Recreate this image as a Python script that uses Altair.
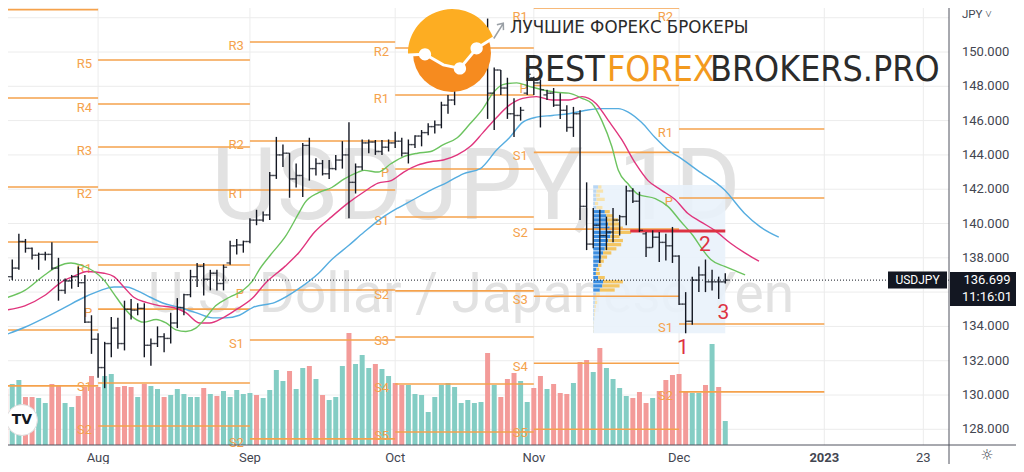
import altair as alt
import pandas as pd

# ------------------------------------------------------------------ data
# trading-day index (weekends skipped as on the chart): 0 = Mon 1 Aug 2022
bar_index = list(range(-14, 96))

opens = [137.40,136.90,137.40,138.95,138.55,138.15,138.20,138.20,137.40,136.10,
         136.65,136.90,136.55,134.25,133.25,131.60,133.00,133.90,133.00,135.00,
         134.95,135.05,132.90,133.00,133.40,133.30,134.20,135.10,135.85,136.90,
         137.50,136.75,137.10,136.50,137.70,138.70,138.75,138.95,140.20,140.20,
         140.50,142.80,144.00,144.10,142.60,142.80,144.55,143.20,143.50,142.90,
         143.20,143.70,144.00,142.40,143.30,144.70,144.75,144.20,144.45,144.70,
         144.80,144.10,144.60,145.10,145.30,145.65,145.75,146.90,147.20,148.70,
         149.00,149.20,149.85,150.15,147.60,148.95,147.90,146.40,146.30,147.60,
         148.50,148.20,147.50,147.60,146.90,146.60,145.60,146.40,141.00,138.80,
         139.90,139.30,139.50,140.20,140.40,141.90,141.30,139.40,138.60,139.20,
         138.90,138.70,138.10,135.30,134.30,136.70,137.00,136.60,136.60,136.60]
highs = [137.60,137.90,139.40,139.10,138.60,138.30,138.35,138.90,138.00,136.80,
         137.00,137.50,137.00,134.65,133.60,133.10,134.55,134.50,135.50,135.60,
         135.35,135.35,133.30,134.00,133.60,134.80,135.65,135.90,137.30,137.70,
         137.70,137.30,137.30,137.60,139.00,139.10,139.00,140.30,140.80,140.70,
         143.00,145.05,144.60,144.10,143.50,144.70,145.00,143.80,143.70,143.70,
         144.00,144.80,145.90,143.50,144.90,144.90,144.87,144.87,144.90,145.35,
         145.00,144.90,145.15,145.45,145.85,146.00,147.10,147.50,148.86,149.10,
         149.30,149.90,150.30,151.95,149.10,148.95,148.50,147.30,146.80,149.10,
         148.55,148.40,147.80,147.90,147.60,146.90,146.80,146.60,142.40,140.90,
         140.80,140.40,140.90,140.50,142.20,142.05,141.85,139.50,139.60,139.50,
         139.40,139.80,138.15,136.00,136.90,137.50,137.90,137.30,136.90,137.10]
lows = [136.40,136.70,137.30,138.30,137.90,137.30,137.85,137.30,135.50,135.90,
        136.20,136.30,134.20,132.40,131.00,130.40,132.20,132.70,132.60,134.40,
        134.65,132.20,131.70,132.80,132.50,133.00,133.90,134.65,135.70,136.30,
        135.80,136.10,136.10,136.10,137.60,138.20,138.30,138.85,139.90,140.10,
        140.20,142.60,143.30,141.50,142.10,141.55,142.50,142.80,142.80,142.60,
        143.10,143.20,140.30,141.75,143.10,144.10,144.00,144.00,144.20,144.40,
        143.90,143.50,144.40,144.50,145.15,145.25,145.55,146.40,146.90,148.40,
        148.70,149.10,149.70,146.10,145.45,147.50,146.10,145.05,146.00,147.50,
        147.50,145.60,147.20,146.80,146.10,145.35,145.05,140.20,138.45,138.55,
        137.70,138.45,138.90,139.30,139.90,141.20,139.50,138.05,138.60,137.75,
        137.85,137.70,135.25,133.60,134.10,136.00,136.00,136.10,135.60,136.50]
closes = [136.90,137.40,138.95,138.55,138.15,138.20,138.20,137.40,136.10,136.65,
          136.90,136.55,134.25,133.25,131.60,133.00,133.90,133.00,135.00,134.95,
          135.05,132.90,133.00,133.40,133.30,134.20,135.10,135.85,136.90,137.50,
          136.75,137.10,136.50,137.45,138.70,138.75,138.95,140.20,140.20,140.50,
          142.80,144.00,144.10,142.60,142.80,144.55,143.20,143.50,142.90,143.20,
          143.70,144.00,142.40,143.30,144.70,144.75,144.20,144.45,144.70,144.80,
          144.10,144.60,145.10,145.30,145.65,145.75,146.90,147.20,148.70,149.00,
          149.20,149.85,150.15,147.60,148.95,147.90,146.40,146.30,146.60,148.70,
          148.20,147.80,147.60,146.90,146.60,145.60,146.40,141.00,138.80,139.90,
          139.30,139.50,140.20,140.40,141.90,141.30,139.60,138.60,139.20,138.90,
          138.70,138.10,135.30,134.30,136.70,137.00,136.60,136.60,136.60,136.70]

volume = [56,61,65,48,48,47,42,61,59,42,
          38,49,58,69,58,69,71,58,59,58,
          48,61,59,56,48,50,56,51,48,48,
          57,51,49,54,48,55,51,52,50,47,
          55,75,64,74,56,77,79,66,50,45,
          48,79,112,81,90,77,81,76,69,62,
          60,60,51,50,33,48,60,62,58,42,
          45,42,43,92,60,48,66,72,64,43,
          57,69,56,61,52,51,62,83,85,73,
          97,77,66,57,49,47,53,42,47,54,
          65,70,71,53,52,52,60,101,58,24]
volume_side = ("d u u d d u u d d u "
               "u d d d d u u d d d "
               "u d u u d u u u u u "
               "d u d u u u u u d u "
               "u u u d u u d u d u "
               "u u d u u u d u u d "
               "d u u u u u u u u u "
               "u u u d u d d d u u "
               "d d u d d d u d d u "
               "d u u u u d d d u d "
               "d d d d u u d u d u").split()

# Alligator lines (jaw / teeth / lips)
lips_at = [-14.1,-11.1,-8.1,-6.1,-4.1,-2.6,-0.6,0.9,2.4,3.9,5.4,6.9,8.8,10.3,11.8,13.3,14.8,
           16.3,17.8,19.9,21.9,23.4,24.4,26.4,28.3,30.4,31.3,33.4,35.4,37.3,39.4,40.3,42.4,
           44.4,46.3,48.4,50.4,52.3,54.4,56.3,58.3,59.8,61.3,63.4,65.3,67.3,69.4,71.3,73.3,
           74.8,76.3,77.8,78.8,80.3,81.8,84.4,86.3,88.3,90.1,91.6,92.8,94.9,96.8,98.0]
lips = [135.65,136.1,137.0,137.5,137.7,137.57,137.2,136.7,135.9,135.1,134.5,134.25,134.4,
        134.2,133.8,133.7,133.9,134.5,135.2,135.7,136.1,136.65,137.3,138.3,139.2,140.6,141.2,
        141.8,142.1,142.6,143.0,143.1,143.0,143.5,143.9,144.1,144.2,144.6,145.0,145.8,146.7,
        147.6,148.1,148.2,148.0,147.8,147.65,147.6,147.3,147.0,146.0,144.5,143.1,142.3,141.7,
        141.45,141.0,140.1,139.3,138.45,137.9,137.5,137.2,137.0]
teeth_at = [-14.1,-11.1,-8.1,-5.5,-3.2,-1.7,0.9,2.4,3.9,5.4,7.3,9.4,11.4,13.3,15.4,16.9,18.9,
            20.8,23.4,25.3,28.3,30.4,32.8,35.4,37.9,40.3,42.4,44.4,46.3,48.4,50.4,52.3,54.4,
            56.4,58.3,60.4,62.3,64.3,66.4,68.8,71.3,73.3,75.4,77.3,79.3,81.4,83.3,85.3,87.4,
            89.3,91.3,93.4,95.8,97.9,100.1]
teeth = [134.95,135.2,135.8,136.6,137.0,137.2,137.1,136.9,136.3,135.7,135.4,135.2,135.1,
         134.8,134.2,134.2,134.5,134.95,135.65,136.5,137.5,138.3,139.5,140.4,141.2,141.85,
         142.35,142.5,143.0,143.4,143.6,143.7,144.0,144.5,145.3,146.2,146.9,147.3,147.4,147.2,
         147.2,147.4,147.0,146.0,144.9,143.5,142.5,141.95,141.4,140.6,140.1,139.6,138.85,138.3,
         137.8]
jaw_at = [-14.1,-11.1,-8.1,-5.1,-2.1,0.4,2.4,4.3,5.8,7.9,9.9,12.4,14.8,17.4,19.3,21.4,23.4,
          26.8,30.4,33.4,35.4,37.9,40.3,42.9,45.4,47.8,50.4,52.9,55.3,57.9,60.4,62.3,64.3,
          66.4,68.8,71.3,73.9,76.3,78.8,80.3,82.3,84.4,86.3,88.3,90.8,94.9,97.9,100.3,103.1]
jaw = [133.5,133.95,134.5,135.1,135.7,136.1,136.3,136.3,136.1,135.7,135.35,135.1,134.8,134.5,
       134.5,134.65,135.1,135.4,136.2,137.1,137.9,138.7,139.5,140.3,140.9,141.4,141.95,142.4,
       142.9,143.2,144.3,145.0,145.9,146.2,146.3,146.4,146.6,146.7,146.7,146.5,145.9,145.0,
       144.3,143.8,143.1,141.95,140.6,139.8,139.2]

# monthly pivot points: one segment per month
pivot_months = ["Jul", "Aug", "Sep", "Oct", "Nov", "Dec"]
pivot_from = [-20, 0, 23, 45, 66, 88]
pivot_to = [0, 23, 45, 66, 88, 110]
piv_jul_names = ["R4", "R3", "R2", "R1", "P", "S1"]
piv_jul = [152.47, 147.32, 142.13, 138.92, 133.79, 130.53]
piv_aug_names = ["R5", "R4", "R3", "R2", "R1", "P", "S1", "S2"]
piv_aug = [149.53, 146.97, 144.46, 141.95, 137.58, 135.01, 130.70, 128.19]
piv_sep_names = ["R3", "R2", "R1", "P", "S1", "S2"]
piv_sep = [150.58, 144.81, 141.95, 136.12, 133.21, 127.44]
piv_oct_names = ["R2", "R1", "P", "S1", "S2", "S3", "S4", "S5"]
piv_oct = [150.23, 147.49, 143.18, 140.38, 136.07, 133.38, 130.64, 127.84]
piv_nov_names = ["R1", "P", "S1", "S2", "S3", "S4", "S5"]
piv_nov = [152.57, 148.05, 144.15, 139.67, 135.76, 131.85, 128.00]
piv_dec_names = ["R2", "R1", "P", "S1", "S2"]
piv_dec = [152.77, 145.51, 141.49, 134.14, 130.18]

# fixed range volume profile (rows from top to bottom)
vp_from, vp_to = 75, 95
vp_high, vp_low = 142.25, 133.60
vp_up = [5.0,3.3,2.7,3.3,1.7,3.3,11.7,13.3,14.0,15.0,16.7,18.3,17.3,15.0,13.3,11.7,10.0,8.3,
         6.0,5.0,3.3,2.7,5.0,10.0,9.3,6.7,2.7,1.7,1.7,1.3,1.0,0.7,0.7,0.3,0.3,0.3]
vp_down = [3.3,6.7,4.0,8.3,3.3,6.0,5.0,6.7,11.0,11.7,13.3,20.0,9.3,15.0,15.0,11.7,8.3,5.7,
           4.7,3.3,2.7,4.0,6.7,20.0,17.3,15.0,4.0,1.7,2.3,1.3,1.0,0.7,0.3,0.3,0.3,0.3]
vp_value_area = [0]*6 + [1]*20 + [0]*10

# axis ticks
month_ticks = [0, 23, 45, 66, 88, 110, 125]
month_labels = ["Aug", "Sep", "Oct", "Nov", "Dec", "2023", "23"]
month_bold = [0, 0, 0, 0, 0, 1, 0]
price_grid = list(range(128, 153, 2))
price_labels = list(range(128, 151, 2))

last_price = 136.699
countdown = "11:16:01"
symbol = "USDJPY"

hline_from, hline_to, hline_price = 80.6, 95.0, 139.57
wave_labels = ["1", "2", "3"]
wave_at = [88.6, 91.9, 94.7]
wave_price = [132.74, 138.74, 134.78]

# ------------------------------------------------------------------ style
W, H = 941, 437
BAR = "#131722"
UPV, DNV = "#84cdc4", "#f39b99"
ORANGE = "#f5a24c"
LIPS, TEETH, JAW = "#6cc35f", "#e0357d", "#56ade0"
RED = "#dd3242"
GRID = "#ececec"
TXT = "#434651"
FRAME = "#50535e"
FONT = "Roboto"
NARROW = "Liberation Sans Narrow, DejaVu Sans Condensed, Arial Narrow, sans-serif"

xs = alt.Scale(domain=[-12.888, 128.13], nice=False, zero=False)
ys = alt.Scale(domain=[127.085, 152.566], nice=False, zero=False)


def X(f):
    return alt.X(f, type="quantitative", scale=xs, axis=None)


def Y(f):
    return alt.Y(f, type="quantitative", scale=ys, axis=None)


one = pd.DataFrame({"k": [0]})

# ------------------------------------------------------------------ tables
ohlc = pd.DataFrame({"i": bar_index, "o": opens, "h": highs, "l": lows, "c": closes})
vdf = pd.DataFrame({"i": bar_index, "v": volume, "s": volume_side})
gx = pd.DataFrame({"i": month_ticks, "t": month_labels, "b": month_bold})
gy = pd.DataFrame({"p": price_grid})
ly = pd.DataFrame({"p": price_labels})

piv_rows = []
for m, f, t, names, vals in zip(pivot_months, pivot_from, pivot_to,
                                [piv_jul_names, piv_aug_names, piv_sep_names, piv_oct_names,
                                 piv_nov_names, piv_dec_names],
                                [piv_jul, piv_aug, piv_sep, piv_oct, piv_nov, piv_dec]):
    for n, v in zip(names, vals):
        piv_rows.append({"m": m, "f": f, "t": t, "n": n, "p": v})
pdf = pd.DataFrame(piv_rows)

nrow = len(vp_up)
step = (vp_high - vp_low) / nrow
vmax = max(u + d for u, d in zip(vp_up, vp_down))
vpw = 0.287 * (vp_to - vp_from)
vp = pd.DataFrame({"k": list(range(nrow)), "up": vp_up, "dn": vp_down, "va": vp_value_area})
vp["hi"] = vp_high - vp["k"] * step - 0.025
vp["lo"] = vp_high - (vp["k"] + 1) * step + 0.025
vp["x0"] = vp_from
vp["xu"] = vp_from + vp["up"] / vmax * vpw
vp["xd"] = vp["xu"] + vp["dn"] / vmax * vpw
vpbox = pd.DataFrame({"a": [vp_from], "b": [vp_to], "lo": [vp_low], "hi": [vp_high]})

lips_df = pd.DataFrame({"i": lips_at, "v": lips})
teeth_df = pd.DataFrame({"i": teeth_at, "v": teeth})
jaw_df = pd.DataFrame({"i": jaw_at, "v": jaw})
lp = pd.DataFrame({"p": [last_price]})
hl_df = pd.DataFrame({"a": [hline_from], "b": [hline_to], "p": [hline_price]})
wave_df = pd.DataFrame({"i": wave_at, "p": wave_price, "t": wave_labels})

# ------------------------------------------------------------------ layers
grid_h = alt.Chart(gy).mark_rule(color=GRID, strokeWidth=1).encode(y=Y("p"))
grid_v = alt.Chart(gx).mark_rule(color=GRID, strokeWidth=1).encode(x=X("i"))
back = alt.layer(grid_h, grid_v)

wm1 = alt.Chart(one).mark_text(text="USDJPY, 1D", fontSize=101, font=FONT, color="#e2e2e2",
                               align="center", baseline="alphabetic").encode(
    x=alt.value(468), y=alt.value(211))
wm2 = alt.Chart(one).mark_text(text="U.S. Dollar / Japanese Yen", fontSize=55, font=FONT,
                               color="#e2e2e2", align="center", baseline="alphabetic").encode(
    x=alt.value(463), y=alt.value(304))

vscale = alt.Scale(domain=[0, 437], nice=False, zero=True)
vol_up = alt.Chart(vdf).transform_filter("datum.s == 'u'").mark_bar(
    size=5, color=UPV, clip=True).encode(x=X("i"), y=alt.Y("v:Q", scale=vscale, axis=None))
vol_dn = alt.Chart(vdf).transform_filter("datum.s == 'd'").mark_bar(
    size=5, color=DNV, clip=True).encode(x=X("i"), y=alt.Y("v:Q", scale=vscale, axis=None))
vol_group = alt.layer(vol_up, vol_dn)

box = alt.Chart(vpbox).mark_rect(color="#e9f2fb", opacity=0.9).encode(
    x=X("a"), x2="b:Q", y=Y("lo"), y2="hi:Q")
vp_blue = alt.Chart(vp).mark_rect().encode(
    x=X("x0"), x2="xu:Q", y=Y("lo"), y2="hi:Q",
    color=alt.condition("datum.va == 1", alt.value("#3b8de0"), alt.value("#b8d6f4")))
vp_yel = alt.Chart(vp).mark_rect().encode(
    x=X("xu"), x2="xd:Q", y=Y("lo"), y2="hi:Q",
    color=alt.condition("datum.va == 1", alt.value("#f4c562"), alt.value("#f7e3ae")))

piv_lines = alt.Chart(pdf).mark_rule(color=ORANGE, strokeWidth=1.6, clip=True).encode(
    x=X("f"), x2="t:Q", y=Y("p"))
# labels of the segment that starts left of the visible range are off-screen
piv_text = alt.Chart(pdf).transform_filter("datum.f >= 0").transform_calculate(
    pl="min(datum.p, 152.25)").mark_text(
    align="right", baseline="middle", dx=-6, dy=4, fontSize=13, font=FONT,
    color=ORANGE).encode(x=X("f"), y=Y("pl"), text="n:N")

l_jaw = alt.Chart(jaw_df).mark_line(color=JAW, strokeWidth=1.4, interpolate="monotone",
                                    clip=True).encode(x=X("i"), y=Y("v"))
l_teeth = alt.Chart(teeth_df).mark_line(color=TEETH, strokeWidth=1.4, interpolate="monotone",
                                        clip=True).encode(x=X("i"), y=Y("v"))
l_lips = alt.Chart(lips_df).mark_line(color=LIPS, strokeWidth=1.4, interpolate="monotone",
                                      clip=True).encode(x=X("i"), y=Y("v"))

dotted = alt.Chart(lp).mark_rule(color=BAR, strokeDash=[1, 2], strokeWidth=1).encode(y=Y("p"))
red_line = alt.Chart(hl_df).mark_rule(color=RED, strokeWidth=3).encode(
    x=X("a"), x2="b:Q", y=Y("p"))

hl = alt.Chart(ohlc).mark_rule(color=BAR, strokeWidth=1.4, clip=True).encode(
    x=X("i"), y=Y("l"), y2="h:Q")
o_tick = alt.Chart(ohlc).mark_tick(orient="horizontal", size=3.6, thickness=1.4, xOffset=-1.8,
                                   color=BAR, clip=True).encode(x=X("i"), y=Y("o"))
c_tick = alt.Chart(ohlc).mark_tick(orient="horizontal", size=3.6, thickness=1.4, xOffset=1.8,
                                   color=BAR, clip=True).encode(x=X("i"), y=Y("c"))

waves = alt.Chart(wave_df).mark_text(fontSize=21, font=FONT, color=RED, align="center",
                                     baseline="middle").encode(x=X("i"), y=Y("p"), text="t:N")

# price scale labels (right) and time labels (bottom)
y_labels = alt.Chart(ly).mark_text(align="left", baseline="middle", fontSize=13, font=FONT,
                                   color=TXT).encode(
    x=alt.value(954), y=Y("p"), text=alt.Text("p:Q", format=".3f"))
x_labels = alt.Chart(gx).transform_filter("datum.b == 0").mark_text(
    align="center", baseline="middle", fontSize=13, font=FONT, color=TXT).encode(
    x=X("i"), y=alt.value(450), text="t:N")
x_labels_b = alt.Chart(gx).transform_filter("datum.b == 1").mark_text(
    align="center", baseline="middle", fontSize=13, font=FONT, fontWeight="bold",
    color=TXT).encode(x=X("i"), y=alt.value(450), text="t:N")

sym_box = alt.Chart(lp).mark_rule(color=BAR, strokeWidth=17).encode(
    y=Y("p"), x=alt.value(880), x2=alt.value(939))
sym_txt = alt.Chart(lp).mark_text(color="white", fontSize=12, font=FONT, align="center",
                                  baseline="middle", text=symbol).encode(
    y=Y("p"), x=alt.value(909.5))
px_box = alt.Chart(lp).mark_rule(color=BAR, strokeWidth=34, yOffset=9).encode(
    y=Y("p"), x=alt.value(942), x2=alt.value(1012))
px_txt = alt.Chart(lp).mark_text(color="white", fontSize=13, font=FONT, align="center",
                                 baseline="middle").encode(
    y=Y("p"), x=alt.value(979), text=alt.Text("p:Q", format=".3f"))
cd_txt = alt.Chart(lp).mark_text(color="white", fontSize=13, font=FONT, align="center",
                                 baseline="middle", dy=17, text=countdown).encode(
    y=Y("p"), x=alt.value(979))

price_group = alt.layer(box, vp_blue, vp_yel, piv_lines, piv_text, l_jaw, l_teeth, l_lips,
                        dotted, red_line, hl, o_tick, c_tick, waves, y_labels, x_labels,
                        x_labels_b, sym_box, sym_txt, px_box, px_txt, cd_txt)

# logo
CX, CY = 444, 45
circle_full = alt.Chart(one).mark_point(shape="circle", size=6082, filled=True, opacity=1,
                                        color="#f68b1f").encode(x=alt.value(CX), y=alt.value(CY))
upper = ("M -0.999 0.045 A 1 1 0 0 1 0.94 -0.34 L 0.56 -0.107 L 0.18 0.35 "
         "L -0.198 0.27 L -0.614 0.03 Z")
circle_top = alt.Chart(one).mark_point(shape=upper, size=7744, filled=True, opacity=1,
                                       color="#fdad22").encode(x=alt.value(CX), y=alt.value(CY))
zig = "M -0.999 0.045 L -0.614 0.03 L -0.198 0.27 L 0.18 0.35 L 0.56 -0.107 L 0.94 -0.34"
zig_line = alt.Chart(one).mark_point(shape=zig, size=7744, filled=False, opacity=1,
                                     stroke="white", strokeWidth=3).encode(
    x=alt.value(CX), y=alt.value(CY))


def dot(cx, cy, r=0.14):
    return "M %f %f A %f %f 0 1 0 %f %f A %f %f 0 1 0 %f %f Z " % (
        cx - r, cy, r, r, cx + r, cy, r, r, cx - r, cy)


dots = alt.Chart(one).mark_point(shape=dot(-0.614, 0.03) + dot(0.18, 0.35) + dot(0.56, -0.107),
                                 size=7744, filled=True, opacity=1, color="white").encode(
    x=alt.value(CX), y=alt.value(CY))
arrow = alt.Chart(one).mark_point(
    shape="M 0.95 -0.33 L 1.166 -0.675 M 1.02 -0.64 L 1.166 -0.675 L 1.17 -0.52",
    size=7744, filled=False, opacity=1, stroke="#9aa0a6", strokeWidth=1.5).encode(
    x=alt.value(CX), y=alt.value(CY))
t_ru = alt.Chart(one).mark_text(text="ЛУЧШИЕ ФОРЕКС БРОКЕРЫ", font=NARROW, fontSize=18.5,
                                color="#2b2b2b", align="left", baseline="alphabetic").encode(
    x=alt.value(502), y=alt.value(25))
t_best = alt.Chart(one).mark_text(text="BEST", font=NARROW, fontSize=35.5, color="#2b2b2b",
                                  align="left", baseline="alphabetic").encode(
    x=alt.value(515), y=alt.value(73))
t_forex = alt.Chart(one).mark_text(text="FOREX", font=NARROW, fontSize=35.5, color="#f39a1e",
                                   align="left", baseline="alphabetic").encode(
    x=alt.value(599), y=alt.value(73))
t_brok = alt.Chart(one).mark_text(text="BROKERS.PRO", font=NARROW, fontSize=35.5,
                                  color="#2b2b2b", align="left", baseline="alphabetic").encode(
    x=alt.value(702), y=alt.value(73))

# TradingView badge and chrome
tv_c = alt.Chart(one).mark_point(shape="circle", size=960, filled=True, opacity=1,
                                 color="white", stroke="#dddddd", strokeWidth=1).encode(
    x=alt.value(14), y=alt.value(412))
tv_t = alt.Chart(one).mark_text(text="TV", fontSize=14, fontWeight=900, font="DejaVu Sans",
                                color=BAR, align="center", baseline="middle").encode(
    x=alt.value(14), y=alt.value(412))
jpy = alt.Chart(one).mark_text(text="JPY ˅", fontSize=11.5, font=FONT, color=TXT,
                               align="left", baseline="middle").encode(
    x=alt.value(954), y=alt.value(7))
gear = alt.Chart(one).mark_text(text="☼", fontSize=15, font="DejaVu Sans", color=TXT,
                                align="center", baseline="middle").encode(
    x=alt.value(979), y=alt.value(447))
frame_h = alt.Chart(one).mark_rule(color=FRAME, strokeWidth=1).encode(
    x=alt.value(0), x2=alt.value(1010), y=alt.value(437))
frame_v = alt.Chart(one).mark_rule(color=FRAME, strokeWidth=1).encode(
    x=alt.value(941), y=alt.value(0), y2=alt.value(460))

chart = alt.layer(
    back, wm1, wm2, vol_group, price_group,
    circle_full, circle_top, zig_line, dots, arrow,
    t_ru, t_best, t_forex, t_brok, tv_c, tv_t, jpy, gear, frame_h, frame_v
).resolve_scale(y="independent").properties(
    width=W, height=H,
    autosize=alt.AutoSizeParams(type="none"),
    padding={"left": 0, "top": 0, "right": 67, "bottom": 19},
    background="white",
).configure_view(stroke=None)

chart.save("out.html", embed_options={"renderer": "svg", "actions": False})
